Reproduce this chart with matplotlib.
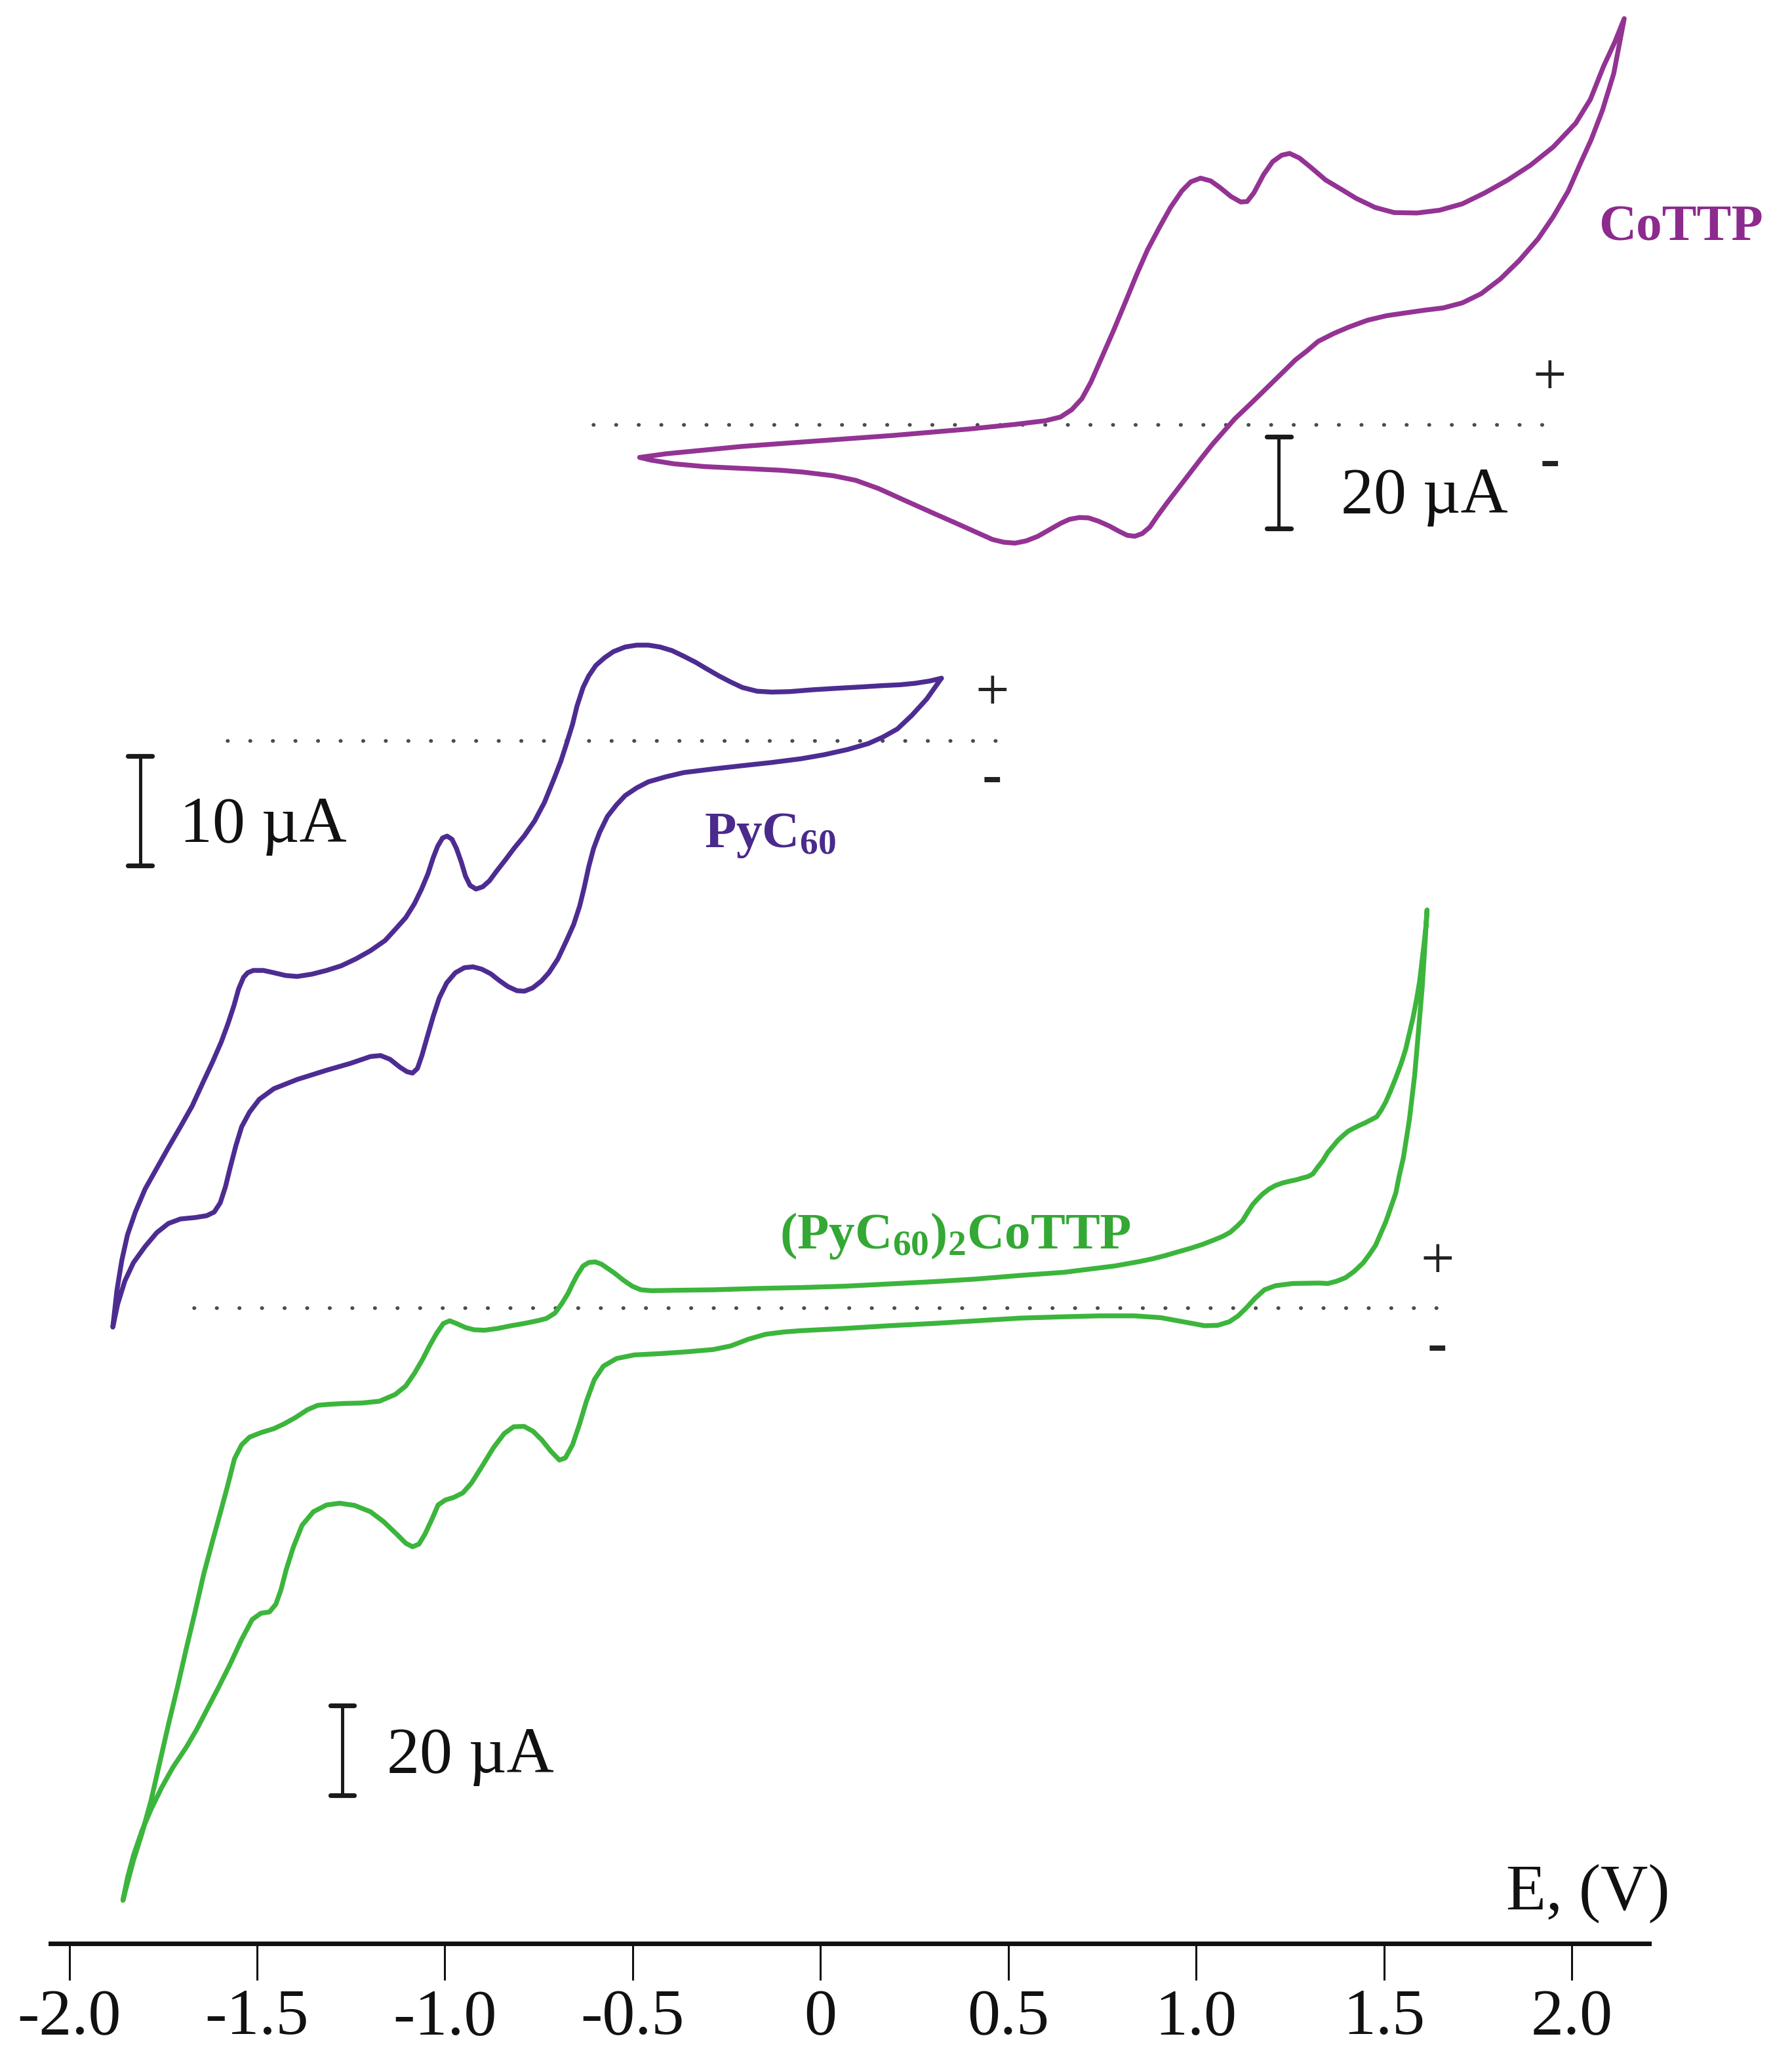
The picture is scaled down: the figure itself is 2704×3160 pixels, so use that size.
import matplotlib
matplotlib.use("Agg")
import matplotlib.pyplot as plt
import numpy as np

plt.rcParams['font.family'] = ['Liberation Serif', 'DejaVu Serif']
plt.rcParams['mathtext.fontset'] = 'custom'
plt.rcParams['mathtext.rm'] = 'Liberation Serif'
plt.rcParams['mathtext.bf'] = 'Liberation Serif:bold'
plt.rcParams['mathtext.it'] = 'Liberation Serif:italic'

# ---------------- data (E in V, I in µA) ----------------
# CoTTP: anodic branch (left tip -> right tip)
cottp_up_E = [-0.481, -0.410, -0.208, -0.007, 0.195, 0.397, 0.518, 0.599, 0.639, 0.669, 0.696, 0.720,
              0.750, 0.780, 0.811, 0.841, 0.871, 0.902, 0.932, 0.962, 0.986, 1.012, 1.039, 1.063,
              1.093, 1.119, 1.136, 1.154, 1.180, 1.204, 1.228, 1.249, 1.275, 1.305, 1.345, 1.386,
              1.426, 1.477, 1.527, 1.588, 1.648, 1.709, 1.769, 1.830, 1.890, 1.951, 2.011, 2.050,
              2.085, 2.115, 2.140]
cottp_up_I = [-7.1, -6.3, -4.7, -3.5, -2.3, -0.9, 0.1, 0.9, 1.7, 3.3, 5.7, 9.3,
              14.9, 20.5, 26.6, 32.6, 38.2, 43.0, 47.4, 51.0, 53.0, 53.8, 53.2, 51.8,
              49.8, 48.6, 48.7, 50.6, 54.6, 57.4, 58.8, 59.2, 58.2, 56.2, 53.4, 51.4,
              49.4, 47.4, 46.3, 46.2, 46.8, 48.2, 50.6, 53.4, 56.6, 60.6, 65.8, 71.0,
              78.2, 83.5, 88.6]
# CoTTP: cathodic branch (right tip -> left tip)
cottp_dn_E = [2.140, 2.112, 2.082, 2.052, 2.021, 1.991, 1.951, 1.911, 1.860, 1.810, 1.759, 1.709,
              1.658, 1.608, 1.557, 1.507, 1.456, 1.406, 1.366, 1.325, 1.295, 1.265, 1.224, 1.184,
              1.144, 1.103, 1.073, 1.043, 1.012, 0.982, 0.952, 0.922, 0.897, 0.877, 0.857, 0.837,
              0.817, 0.797, 0.770, 0.740, 0.714, 0.690, 0.663, 0.639, 0.609, 0.579, 0.548, 0.518,
              0.488, 0.458, 0.417, 0.357, 0.296, 0.225, 0.155, 0.094, 0.034, -0.047, -0.107,
              -0.208, -0.309, -0.390, -0.451, -0.481]
cottp_dn_I = [88.6, 76.6, 68.6, 62.2, 56.6, 51.0, 45.4, 40.6, 35.8, 31.8, 28.6, 26.6,
              25.5, 25.0, 24.4, 23.8, 22.8, 21.3, 19.9, 18.2, 16.1, 14.2, 10.9, 7.7,
              4.5, 1.3, -1.5, -4.3, -7.5, -10.7, -13.9, -17.1, -19.9, -22.3, -23.7, -24.3,
              -24.1, -23.3, -22.1, -21.0, -20.3, -20.2, -20.6, -21.5, -22.9, -24.3, -25.3, -25.8,
              -25.6, -25.0, -23.5, -21.3, -19.1, -16.5, -13.9, -12.1, -11.1, -10.3, -9.9,
              -9.5, -9.1, -8.5, -7.7, -7.1]

# PyC60: branch from right tip -> bottom tip
pyc60_up_E = [0.322, 0.291, 0.252, 0.213, 0.166, 0.104, 0.041, -0.021, -0.083, -0.130, -0.169,
              -0.208, -0.239, -0.270, -0.302, -0.333, -0.364, -0.395, -0.427, -0.458, -0.489,
              -0.520, -0.551, -0.574, -0.598, -0.617, -0.632, -0.648, -0.660, -0.676, -0.691,
              -0.710, -0.735, -0.761, -0.788, -0.816, -0.839, -0.863, -0.881, -0.899, -0.917,
              -0.933, -0.945, -0.956, -0.969, -0.981, -0.994, -1.006, -1.019, -1.031, -1.045,
              -1.062, -1.081, -1.104, -1.131, -1.159, -1.198, -1.237, -1.276, -1.315, -1.354,
              -1.393, -1.424, -1.455, -1.483, -1.510, -1.525, -1.536, -1.549, -1.561, -1.577,
              -1.595, -1.619, -1.642, -1.673, -1.704, -1.736, -1.767, -1.798, -1.824, -1.845,
              -1.860, -1.873, -1.884]
pyc60_up_I = [5.69, 5.44, 5.23, 5.10, 5.02, 4.89, 4.77, 4.64, 4.47, 4.43, 4.51,
              4.85, 5.35, 5.90, 6.53, 7.16, 7.70, 8.21, 8.54, 8.71, 8.71,
              8.54, 8.12, 7.58, 6.86, 5.90, 4.85, 3.17, 1.49, -0.27, -1.86,
              -3.54, -5.64, -7.32, -8.66, -9.83, -10.88, -11.93, -12.77, -13.32, -13.53,
              -13.19, -12.35, -11.09, -9.83, -8.99, -8.70, -8.87, -9.62, -10.67, -12.14,
              -13.53, -14.87, -16.13, -17.17, -18.22, -19.15, -19.90, -20.53, -20.95, -21.29,
              -21.50, -21.41, -21.16, -20.95, -20.95, -21.16, -21.58, -22.63, -24.10, -25.77,
              -27.45, -29.34, -31.02, -33.33, -35.21, -37.10, -38.99, -40.88, -42.98, -45.07,
              -47.38, -50.11, -53.47]
# PyC60: branch from bottom tip -> right tip
pyc60_dn_E = [-1.884, -1.871, -1.852, -1.829, -1.798, -1.767, -1.736, -1.704, -1.665, -1.634, -1.614,
              -1.598, -1.584, -1.572, -1.556, -1.541, -1.520, -1.494, -1.455, -1.393, -1.315,
              -1.252, -1.198, -1.171, -1.146, -1.120, -1.101, -1.086, -1.073, -1.061, -1.047,
              -1.031, -1.015, -0.995, -0.972, -0.948, -0.925, -0.902, -0.878, -0.855, -0.832,
              -0.808, -0.788, -0.766, -0.743, -0.723, -0.699, -0.676, -0.657, -0.641, -0.629,
              -0.617, -0.604, -0.588, -0.567, -0.543, -0.520, -0.489, -0.458, -0.411, -0.364,
              -0.286, -0.208, -0.130, -0.052, 0.010, 0.072, 0.127, 0.166, 0.205, 0.244,
              0.283, 0.322]
pyc60_dn_I = [-53.47, -51.37, -49.27, -47.59, -46.12, -44.86, -44.02, -43.61, -43.48, -43.31, -42.98,
              -42.14, -40.67, -38.99, -36.89, -35.21, -33.87, -32.70, -31.73, -30.89, -30.05,
              -29.43, -28.80, -28.71, -29.05, -29.76, -30.18, -30.31, -29.89, -28.71, -27.03,
              -25.15, -23.47, -22.08, -21.16, -20.70, -20.62, -20.83, -21.25, -21.87, -22.42,
              -22.80, -22.84, -22.54, -21.92, -21.16, -19.90, -18.22, -16.76, -15.08, -13.40,
              -11.51, -9.83, -8.37, -6.90, -5.85, -5.01, -4.30, -3.75, -3.29, -2.91,
              -2.58, -2.28, -1.99, -1.65, -1.28, -0.81, -0.27, 0.32, 1.07, 2.33,
              3.80, 5.69]

# (PyC60)2CoTTP: branch from right tip -> bottom tip
mix_up_E = [1.615, 1.612, 1.607, 1.601, 1.595, 1.587, 1.578, 1.568, 1.558, 1.545, 1.531, 1.518,
            1.505, 1.493, 1.481, 1.465, 1.451, 1.435, 1.418, 1.405, 1.391, 1.378, 1.365, 1.351,
            1.338, 1.324, 1.311, 1.298, 1.284, 1.268, 1.251, 1.231, 1.211, 1.194, 1.177, 1.164,
            1.151, 1.137, 1.124, 1.111, 1.091, 1.071, 1.051, 1.017, 0.984, 0.950, 0.917, 0.884,
            0.850, 0.817, 0.783, 0.649, 0.532, 0.415, 0.299, 0.182, 0.065, -0.052, -0.169,
            -0.286, -0.380, -0.450, -0.478, -0.501, -0.524, -0.548, -0.567, -0.583, -0.599,
            -0.616, -0.632, -0.648, -0.660, -0.672, -0.688, -0.707, -0.730, -0.754, -0.789,
            -0.824, -0.859, -0.894, -0.922, -0.945, -0.969, -0.987, -1.004, -1.022, -1.041,
            -1.058, -1.081, -1.104, -1.132, -1.174, -1.221, -1.268, -1.310, -1.338, -1.366,
            -1.397, -1.427, -1.455, -1.490, -1.520, -1.541, -1.560, -1.577, -1.595, -1.619,
            -1.642, -1.665, -1.689, -1.712, -1.736, -1.759, -1.782, -1.806, -1.829, -1.845,
            -1.857]
mix_up_I = [88.6, 85.0, 81.1, 76.9, 72.6, 68.7, 64.8, 61.2, 57.6, 54.2, 51.1, 48.4,
            45.9, 44.1, 42.6, 41.9, 41.3, 40.7, 40.0, 39.4, 38.4, 37.4, 36.1, 34.7,
            32.9, 31.4, 29.9, 29.3, 29.0, 28.6, 28.3, 27.9, 27.3, 26.5, 25.4, 24.3,
            23.1, 21.3, 19.5, 18.4, 16.9, 16.0, 15.3, 14.2, 13.3, 12.5, 11.7, 11.0,
            10.4, 9.9, 9.4, 8.0, 7.3, 6.5, 5.9, 5.4, 4.9, 4.6, 4.4,
            4.1, 4.0, 3.9, 4.1, 4.9, 6.2, 7.8, 8.9, 9.8, 10.3,
            10.2, 9.4, 7.3, 5.4, 3.3, 1.1, -1.1, -2.3, -2.8, -3.4,
            -3.9, -4.5, -4.9, -4.8, -4.3, -3.4, -2.8, -3.4, -5.6, -8.4,
            -11.2, -14.5, -17.3, -19.2, -20.7, -21.1, -21.2, -21.4, -21.6, -22.6,
            -24.3, -25.7, -26.8, -27.7, -28.7, -30.4, -33.5, -39.1, -44.7, -52.0,
            -59.2, -67.6, -76.0, -84.4, -92.7, -101.1, -109.5, -116.8, -122.9, -127.9,
            -131.8]
# (PyC60)2CoTTP: branch from bottom tip -> right tip
mix_dn_E = [-1.857, -1.845, -1.829, -1.806, -1.782, -1.754, -1.724, -1.689, -1.661, -1.630, -1.602,
            -1.572, -1.541, -1.513, -1.490, -1.467, -1.450, -1.436, -1.422, -1.403, -1.380,
            -1.350, -1.315, -1.280, -1.240, -1.198, -1.163, -1.128, -1.104, -1.086, -1.069,
            -1.053, -1.034, -1.018, -0.999, -0.976, -0.952, -0.929, -0.901, -0.871, -0.842,
            -0.817, -0.789, -0.765, -0.742, -0.718, -0.695, -0.679, -0.660, -0.641, -0.623,
            -0.602, -0.578, -0.543, -0.496, -0.426, -0.356, -0.286, -0.239, -0.192, -0.146,
            -0.099, -0.052, 0.065, 0.182, 0.299, 0.415, 0.532, 0.649, 0.743, 0.836,
            0.906, 0.965, 1.023, 1.058, 1.089, 1.112, 1.133, 1.157, 1.182, 1.211,
            1.257, 1.327, 1.351, 1.374, 1.398, 1.421, 1.445, 1.461, 1.478, 1.491,
            1.505, 1.518, 1.532, 1.541, 1.552, 1.560, 1.568, 1.575, 1.582, 1.587,
            1.592, 1.597, 1.602, 1.606, 1.610, 1.615]
mix_dn_I = [-131.8, -126.8, -121.8, -116.2, -111.5, -106.7, -102.2, -97.8, -93.8, -88.8, -84.3,
            -79.3, -73.7, -69.3, -67.9, -67.6, -65.9, -62.6, -58.1, -53.1, -48.3,
            -45.3, -43.8, -43.4, -43.9, -45.3, -47.5, -50.3, -52.3, -53.1, -52.5,
            -50.3, -46.9, -43.8, -42.7, -42.1, -41.1, -38.9, -35.2, -31.1, -27.9,
            -26.4, -26.3, -27.4, -29.3, -31.8, -33.8, -33.3, -30.4, -25.7, -20.7,
            -15.9, -12.9, -11.2, -10.4, -10.1, -9.7, -9.2, -8.4, -6.9, -5.8,
            -5.3, -5.0, -4.5, -3.9, -3.4, -2.8, -2.2, -1.9, -1.7, -1.7,
            -2.1, -3.0, -3.9, -3.8, -3.0, -1.7, 0.0, 2.2, 4.1, 5.0,
            5.5, 5.6, 5.5, 6.0, 6.8, 8.2, 10.1, 11.9, 14.0, 16.5,
            19.2, 22.3, 25.7, 29.5, 33.5, 37.7, 42.0, 46.9, 51.8, 56.6,
            61.5, 66.4, 71.3, 76.5, 81.7, 88.6]

scale_values = [20, 10, 20]           # µA scale bars
tick_values = [-2.0, -1.5, -1.0, -0.5, 0.0, 0.5, 1.0, 1.5, 2.0]
tick_labels = ['-2.0', '-1.5', '-1.0', '-0.5', '0', '0.5', '1.0', '1.5', '2.0']
names = ['CoTTP', r'$\mathbf{PyC}_{\mathbf{60}}$',
         r'$\mathbf{(PyC}_{\mathbf{60}}\mathbf{)}_{\mathbf{2}}\mathbf{CoTTP}$']

# ---------------- layout ----------------
W, H = 1342, 1568          # layout units (reference pixels)
X0, PXV = 621.0, 284.3     # x of 0 V, units per volt

def ex(x):
    return (x - X0) / PXV

fig = plt.figure(figsize=(27.04, 31.60), dpi=100)
ax = fig.add_axes([0, 0, 1, 1])
ax.set_xlim(ex(0), ex(W))
ax.set_ylim(H, 0)

c_co = '#933394'
c_py = '#4D2C92'
c_mx = '#3CB53C'
c_co_t = '#8D2A8D'
c_py_t = '#4A2A8C'
c_mx_t = '#34A834'

curves = [
    (cottp_up_E + cottp_dn_E, cottp_up_I + cottp_dn_I, 321.5, 3.47, c_co),
    (pyc60_up_E + pyc60_dn_E, pyc60_up_I + pyc60_dn_I, 560.5, 8.30, c_py),
    (mix_up_E + mix_dn_E, mix_up_I + mix_dn_I, 990.0, 3.40, c_mx),
]
for E, I, base, k, col in curves:
    ax.plot(E, base - np.asarray(I) * k, color=col, lw=5.3,
            solid_joinstyle='round', solid_capstyle='round', zorder=3)

# dotted zero lines
dot = dict(color='#4a4a4a', lw=4.0, ls=(0, (0.1, 6.1)), dash_capstyle='round', zorder=2)
ax.plot([ex(449), ex(1178)], [321.5, 321.5], **dot)
ax.plot([ex(172), ex(762)], [560.5, 560.5], **dot)
ax.plot([ex(147), ex(1090)], [990.0, 990.0], **dot)

# scale bars
def scale_bar(xc, top, value, k):
    hw = 9 / PXV
    bot = top + value * k
    ax.plot([ex(xc), ex(xc)], [top, bot], color='#1a1a1a', lw=3.6, solid_capstyle='butt')
    for y in (top, bot):
        ax.plot([ex(xc) - hw, ex(xc) + hw], [y, y], color='#1a1a1a', lw=5.2, solid_capstyle='round')

scale_bar(968, 330.5, scale_values[0], 3.47)
scale_bar(106, 572.0, scale_values[1], 8.30)
scale_bar(259, 1290.5, scale_values[2], 3.40)

txt = dict(fontsize=72, color='#111111', ha='left', va='baseline')
ax.text(ex(1015), 388, '%d µA' % scale_values[0], **txt)
ax.text(ex(136), 637, '%d µA' % scale_values[1], **txt)
ax.text(ex(293), 1341, '%d µA' % scale_values[2], **txt)

# curve names
ax.text(ex(1210), 182, names[0], fontsize=57, fontweight='bold', color=c_co_t, ha='left', va='baseline')
ax.text(ex(533), 641, names[1], fontsize=57, color=c_py_t, ha='left', va='baseline')
ax.text(ex(590), 945, names[2], fontsize=57, color=c_mx_t, ha='left', va='baseline')

# polarity marks
pm = dict(fontsize=66, color='#222222', ha='center', va='center')
for x, yp, ym in [(1173, 287, 351), (751, 526, 590), (1088, 956, 1020)]:
    ax.text(ex(x), yp, '+', **pm)
    ax.text(ex(x), ym, '-', fontweight='bold', **pm)

# x axis
ax.text(ex(1140), 1445, 'E, (V)', fontsize=72, color='#111111', ha='left', va='baseline')
for s in ['top', 'left', 'right']:
    ax.spines[s].set_visible(False)
ax.spines['bottom'].set_position(('data', 1470.5))
ax.spines['bottom'].set_bounds(ex(38), ex(1248))
ax.spines['bottom'].set_linewidth(5.0)
ax.spines['bottom'].set_color('#111111')
ax.set_yticks([])
ax.set_xticks(tick_values)
ax.set_xticklabels(tick_labels)
ax.tick_params(axis='x', direction='out', length=40, width=2.2, pad=10,
               labelsize=72, color='#111111', labelcolor='#111111')

fig.savefig('out.png', dpi=100, facecolor='white')
